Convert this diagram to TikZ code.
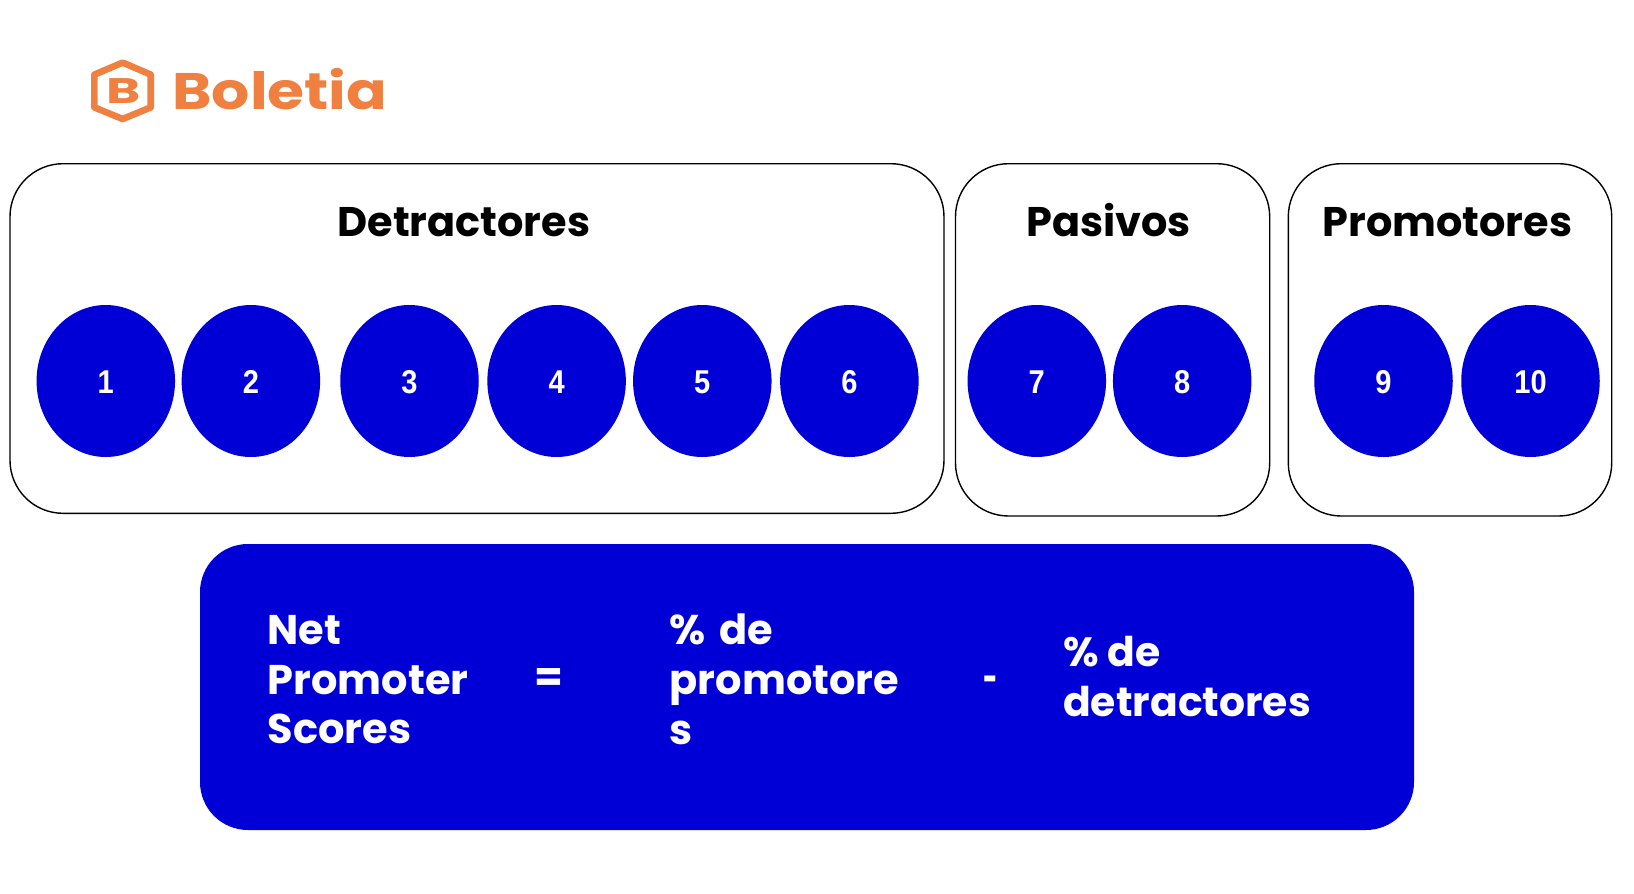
\documentclass[tikz,border=0pt]{standalone}
\usepackage{fontspec}
\usetikzlibrary{shapes.geometric}
\setmainfont{Poppins}
\newfontfamily\numfont[FakeStretch=0.88]{Liberation Sans}
\definecolor{nblue}{HTML}{0000D6}
\definecolor{logoor}{HTML}{F08040}
\tikzset{
 x=1pt,y=-1pt,
 group/.style={draw=black,line width=1.4pt,fill=white,rounded corners=53pt,inner sep=0,outer sep=0},
 title/.style={font=\bfseries\fontsize{41.4}{48}\selectfont,text=black,inner sep=0,anchor=base},
 score/.style={ellipse,fill=nblue,text=white,inner sep=0,outer sep=0,minimum width=138.5pt,minimum height=152pt,text height=25.3pt,text depth=0pt,font=\numfont\bfseries\fontsize{33}{36}\selectfont},
 formula/.style={fill=nblue,rounded corners=48pt,inner sep=0,outer sep=0,minimum width=1214pt,minimum height=286pt},
 ftext/.style={text=white,font=\bfseries\fontsize{41.5}{49.7}\selectfont,inner sep=0,align=left,anchor=north west},
 fsign/.style={text=white,font=\bfseries\fontsize{41.5}{49.7}\selectfont,inner sep=0,anchor=center},
}
\begin{document}
\begin{tikzpicture}
\useasboundingbox (0,0) rectangle (1634,894);
\fill[white] (0,0) rectangle (1634,894);
% logo
\draw[logoor,line width=6.6pt,line join=round] (122.7,62.6) -- (150.7,74.6) -- (150.7,107.4) -- (122.7,119) -- (94.4,107.4) -- (94.4,74.6) -- cycle;
\node[text=logoor,inner sep=0] (logoB) at (123.3,91.3) {\bfseries\fontsize{35.5}{36}\selectfont\scalebox{1.46}[1]{B}};
\node[text=logoor,inner sep=0,anchor=base west] (logotext) at (172.3,109.3) {\bfseries\fontsize{51.4}{54}\selectfont\scalebox{1.165}[1]{Boletia}};
% groups
\node[group,minimum width=934pt,minimum height=349.6pt] (det) at (477,338.5) {};
\node[group,minimum width=314.2pt,minimum height=352.3pt] (pas) at (1112.6,339.85) {};
\node[group,minimum width=323.4pt,minimum height=352.3pt] (pro) at (1450,339.85) {};
\node[title] (tdet) at (463.9,236.7) {Detractores};
\node[title] (tpas) at (1108.5,236.7) {Pasivos};
\node[title] (tpro) at (1447.3,236.7) {Promotores};
% scores
\node[score] (n1) at (105.8,381) {1};
\node[score] (n2) at (250.9,381) {2};
\node[score] (n3) at (409.5,381) {3};
\node[score] (n4) at (556.6,381) {4};
\node[score] (n5) at (702.3,381) {5};
\node[score] (n6) at (849.4,381) {6};
\node[score] (n7) at (1036.8,381) {7};
\node[score] (n8) at (1182.2,381) {8};
\node[score] (n9) at (1383.5,381) {9};
\node[score] (n10) at (1530.5,381) {10};
% formula
\node[formula] (f) at (807,687) {};
\node[ftext] (nps) at (267.5,615) {Net\\Promoter\\Scores};
\node[fsign] (eq) at (549,680) {=};
\node[ftext,text width=240pt] (pp) at (669.5,614) {\% de\\promotore\\s};
\node[fsign] (minus) at (991,685) {\scalebox{0.6}[1]{-}};
\node[ftext,font=\bfseries\fontsize{40.9}{49.7}\selectfont] (pd) at (1063,636) {\% de\\detractores};
\end{tikzpicture}
\end{document}
